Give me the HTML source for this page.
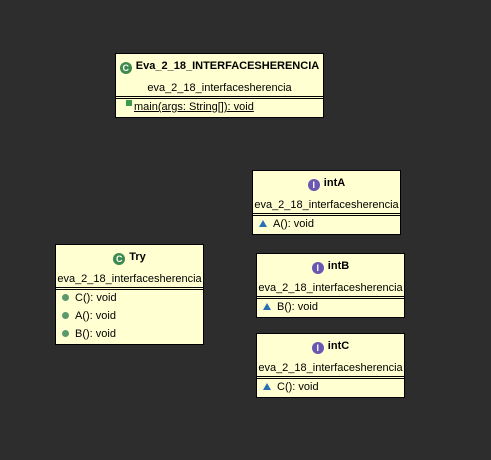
<!DOCTYPE html>
<html><head><style>
body{margin:0;width:491px;height:460px;background:#2d2d2d;position:relative;overflow:hidden;font-family:"Liberation Sans",sans-serif;font-size:11px;color:#000}
.b{position:absolute;background:#ffffd2;border:1px solid #000;box-sizing:border-box}
.t{position:absolute;left:0;right:0;text-align:center;white-space:nowrap}
.hl{position:absolute;left:0;right:0;height:1px;background:#000}
.ic{display:inline-block;width:12px;height:12px;border-radius:50%;vertical-align:-2px;margin-right:4px;color:#fff;font-size:9px;line-height:12px;text-align:center;font-weight:bold}
.m{position:absolute;left:6px;white-space:nowrap}
.dot{display:inline-block;width:7px;height:7px;border-radius:50%;background:#5a9a6a;margin-right:6px;vertical-align:0}
.tri{display:inline-block;width:0;height:0;border-left:4px solid transparent;border-right:4px solid transparent;border-bottom:7px solid #2a6fb5;margin-right:6px}
</style></head><body>

<div class="b" style="left:115px;top:53px;width:209px;height:65px">
 <div class="t" style="top:6px;font-weight:bold"><span class="ic" style="background:#3c8a4e">C</span>Eva_2_18_INTERFACESHERENCIA</div>
 <div class="t" style="top:28px">eva_2_18_interfacesherencia</div>
 <div class="hl" style="top:42px"></div><div class="hl" style="top:44px"></div>
 <div class="m" style="top:46px;left:10px"><span style="display:inline-block;width:6px;height:6px;background:#3c9a4e;vertical-align:4px;margin-right:2px"></span><u>main(args: String[]): void</u></div>
</div>

<div class="b" style="left:55px;top:244px;width:149px;height:101px">
 <div class="t" style="top:6px;font-weight:bold"><span class="ic" style="background:#3c8a4e">C</span>Try</div>
 <div class="t" style="top:28px">eva_2_18_interfacesherencia</div>
 <div class="hl" style="top:42px"></div><div class="hl" style="top:44px"></div>
 <div class="m" style="top:47px"><span class="dot"></span>C(): void</div>
 <div class="m" style="top:65px"><span class="dot"></span>A(): void</div>
 <div class="m" style="top:83px"><span class="dot"></span>B(): void</div>
</div>

<div class="b" style="left:252px;top:170px;width:149px;height:65px">
 <div class="t" style="top:6px;font-weight:bold"><span class="ic" style="background:#6a58b0">I</span>intA</div>
 <div class="t" style="top:28px">eva_2_18_interfacesherencia</div>
 <div class="hl" style="top:42px"></div><div class="hl" style="top:44px"></div>
 <div class="m" style="top:47px"><span class="tri"></span>A(): void</div>
</div>

<div class="b" style="left:256px;top:253px;width:149px;height:65px">
 <div class="t" style="top:6px;font-weight:bold"><span class="ic" style="background:#6a58b0">I</span>intB</div>
 <div class="t" style="top:28px">eva_2_18_interfacesherencia</div>
 <div class="hl" style="top:42px"></div><div class="hl" style="top:44px"></div>
 <div class="m" style="top:47px"><span class="tri"></span>B(): void</div>
</div>

<div class="b" style="left:256px;top:333px;width:149px;height:65px">
 <div class="t" style="top:6px;font-weight:bold"><span class="ic" style="background:#6a58b0">I</span>intC</div>
 <div class="t" style="top:28px">eva_2_18_interfacesherencia</div>
 <div class="hl" style="top:42px"></div><div class="hl" style="top:44px"></div>
 <div class="m" style="top:47px"><span class="tri"></span>C(): void</div>
</div>

</body></html>
